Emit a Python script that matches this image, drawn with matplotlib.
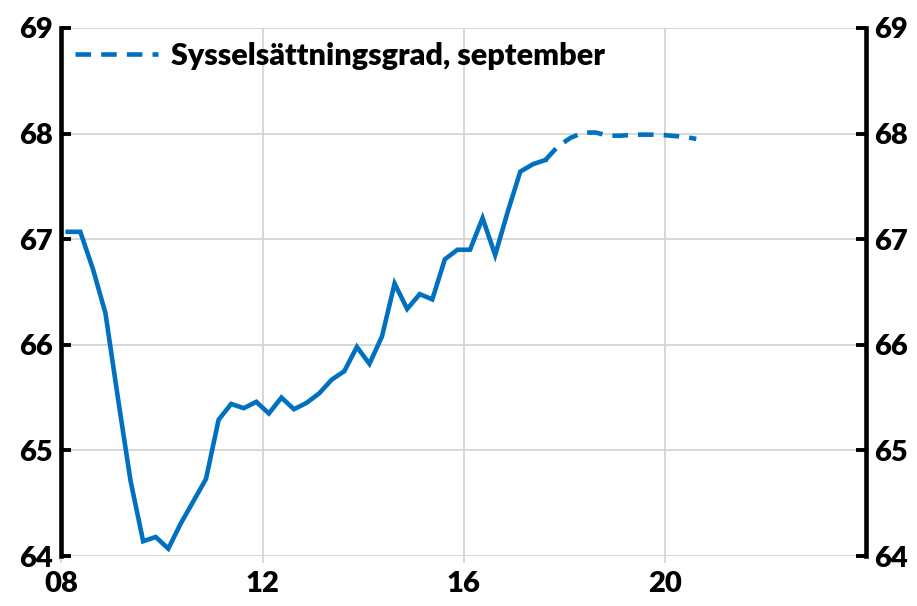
import matplotlib
matplotlib.use("Agg")
import matplotlib.pyplot as plt
import matplotlib.font_manager as fm
import pandas as pd
from matplotlib.lines import Line2D

# ---- data (quarterly, 2008Q1 .. ) ----
quarters_solid = pd.period_range("2008Q1", "2017Q3", freq="Q")
solid_values = [67.07, 67.07, 66.72, 66.30, 65.49, 64.71, 64.14, 64.18,
                64.07, 64.31, 64.52, 64.73, 65.29, 65.44, 65.40, 65.46,
                65.35, 65.50, 65.39, 65.45, 65.54, 65.67, 65.75, 65.98,
                65.82, 66.08, 66.58, 66.34, 66.48, 66.43, 66.81, 66.90,
                66.90, 67.20, 66.85, 67.26, 67.64, 67.71, 67.75]

quarters_dash = pd.period_range("2017Q3", "2020Q3", freq="Q")
dash_values = [67.75, 67.88, 67.96, 68.01, 68.01, 67.98, 67.98, 67.99,
               67.99, 67.99, 67.98, 67.97, 67.95]

legend_label = "Sysselsättningsgrad, september"
xtick_years = [2008, 2012, 2016, 2020]
xtick_labels = ["08", "12", "16", "20"]
yticks = [64, 65, 66, 67, 68, 69]


def to_x(periods):
    return [p.year + (p.quarter - 0.5) / 4 for p in periods]


available = {f.name for f in fm.fontManager.ttflist}
family = "Lato" if "Lato" in available else "DejaVu Sans"
plt.rcParams["font.family"] = [family, "DejaVu Sans"]
WEIGHT = "heavy"
plt.rcParams["font.weight"] = WEIGHT

blue = "#0070C0"
LW = 3.3
DASH = (3.4, 2.2)

fig = plt.figure(figsize=(9.17, 6.06), dpi=100)
ax = fig.add_axes([0.067, 0.0825, 0.8774, 0.8713])

ax.plot(to_x(quarters_solid), solid_values, color=blue, lw=LW,
        solid_joinstyle="miter", zorder=3)
ax.plot(to_x(quarters_dash), dash_values, color=blue, lw=LW,
        dashes=DASH, dash_capstyle="butt", zorder=3)

ax.set_xlim(2008, 2024)
ax.set_ylim(64, 69)
ax.set_xticks(xtick_years)
ax.set_xticklabels(xtick_labels)
ax.set_yticks(yticks)

ax.grid(True, color="#d4d4d4", lw=1.3, zorder=0)
ax.set_axisbelow(True)

for s in ["top", "bottom"]:
    ax.spines[s].set_visible(False)
for s in ["left", "right"]:
    ax.spines[s].set_linewidth(3.3)
    ax.spines[s].set_color("black")

ax.tick_params(axis="y", which="both", left=True, right=True,
               labelleft=True, labelright=True, direction="in",
               length=7, width=2.8, color="black", pad=6,
               labelsize=21)
ax.tick_params(axis="x", direction="out", length=5, width=1.3,
               color="#d4d4d4", pad=6, labelsize=21)

for lab in ax.get_xticklabels() + ax.yaxis.get_ticklabels(which="both"):
    lab.set_fontweight(WEIGHT)
for t in ax.yaxis.get_major_ticks():
    t.label2.set_fontweight(WEIGHT)

handle = Line2D([0], [0], color=blue, lw=LW, dashes=DASH,
                dash_capstyle="butt")
leg = ax.legend([handle], [legend_label], loc="upper left",
                frameon=False, prop={"size": 22, "weight": WEIGHT},
                handlelength=2.7, handletextpad=0.45,
                bbox_to_anchor=(0.0, 1.0), borderaxespad=0.15,
                borderpad=0.3)

fig.savefig("out.png", dpi=100)
